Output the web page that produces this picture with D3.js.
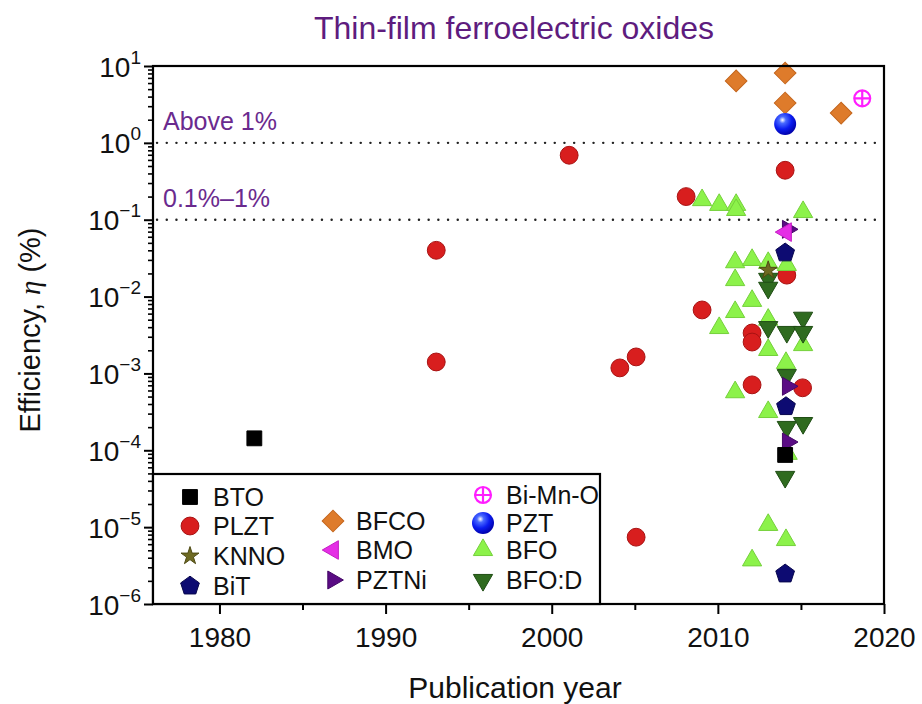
<!DOCTYPE html>
<html>
<head>
<meta charset="utf-8">
<script src="https://cdn.jsdelivr.net/npm/d3@7/dist/d3.min.js"></script>
<style>
  html, body { margin: 0; padding: 0; background: #fff; }
  svg { display: block; }
  text { font-family: "Liberation Sans", Arial, sans-serif; }
</style>
</head>
<body>
<svg id="chart" width="922" height="704"></svg>
<script>
// ---- Data: efficiency (%) vs publication year, thin-film ferroelectric oxides ----
const btoYear   = [1982.1, 2014.05];
const btoEff    = [1.43e-4, 8.7e-5];

const plztYear  = [1993.05, 1993.05, 2001.05, 2004.1, 2005.08, 2005.08, 2008.09, 2009.05,
                   2012.06, 2012.06, 2012.06, 2014.05, 2014.15, 2015.1];
const plztEff   = [0.040, 0.00141, 0.69, 0.00118, 0.00164, 7.4e-6, 0.20, 0.0067,
                   0.00336, 0.00256, 0.00071, 0.44, 0.019, 0.00065];

const knnoYear  = [2013.03];
const knnoEff   = [0.022];

const bitYear   = [2014.05, 2014.1, 2014.05];
const bitEff    = [0.037, 0.00037, 2.46e-6];

const bfcoYear  = [2011.1, 2014.05, 2014.05, 2017.42];
const bfcoEff   = [6.4, 8.1, 3.3, 2.44];

const bmoYear   = [2014.1];
const bmoEff    = [0.069];

const pztniYear = [2014.2, 2014.2, 2014.2];
const pztniEff  = [0.075, 0.00068, 0.000128];

const bimnoYear = [2018.69];
const bimnoEff  = [3.8];

const pztYear   = [2014.05];
const pztEff    = [1.76];

const bfoYear   = [2009.05, 2010.08, 2011.1, 2011.1, 2015.13, 2011.04, 2011.04, 2012.06,
                   2012.06, 2013.03, 2013.03, 2013.03, 2013.03, 2013.03, 2014.15, 2014.1,
                   2014.1, 2011.04, 2011.04, 2010.08, 2015.13, 2012.06, 2014.2];
const bfoEff    = [0.18, 0.156, 0.156, 0.134, 0.126, 0.028, 0.0164, 0.030,
                   0.0088, 0.0274, 0.0050, 0.00202, 0.000315, 1.07e-5, 0.0258, 0.00137,
                   6.8e-6, 0.0063, 0.00057, 0.0039, 0.00234, 3.7e-6, 9e-5];

const bfodYear  = [2013.03, 2013.03, 2013.03, 2014.15, 2015.13, 2015.13, 2014.15, 2014.15,
                   2015.13, 2014.05];
const bfodEff   = [0.017, 0.013, 0.0040, 0.00346, 0.0053, 0.00346, 0.00095, 0.000201,
                   0.000226, 4.5e-5];

// Axis ticks and threshold guides
const xMajorTicks = [1980, 1990, 2000, 2010, 2020];
const xMinorTicks = [1985, 1995, 2005, 2015];
const yMajorTicks = [1e-6, 1e-5, 1e-4, 1e-3, 1e-2, 1e-1, 1, 10];
const thresholds  = [1, 0.1];
const thresholdLabels = ["Above 1%", "0.1%\u20131%"];

// ---- Custom marker shapes ----
const symbolPentagon = {
  draw(ctx, size) {
    const r = Math.sqrt(size / 2.3776);
    for (let i = 0; i < 5; i++) {
      const a = -Math.PI / 2 + i * 2 * Math.PI / 5;
      const px = r * Math.cos(a), py = r * Math.sin(a);
      if (i) ctx.lineTo(px, py); else ctx.moveTo(px, py);
    }
    ctx.closePath();
  }
};
const symbolCirclePlus = {
  draw(ctx, size) {
    const r = Math.sqrt(size / Math.PI);
    ctx.moveTo(r, 0);
    ctx.arc(0, 0, r, 0, 2 * Math.PI);
    ctx.moveTo(-r, 0); ctx.lineTo(r, 0);
    ctx.moveTo(0, -r); ctx.lineTo(0, r);
  }
};

// Series definitions (draw order = stacking order)
const series = [
  { name: "PLZT",    years: plztYear,  vals: plztEff,  type: d3.symbolCircle,   size: 250, rot: 0,   fill: "#d81e1e", stroke: "#a81212" },
  { name: "BFO",     years: bfoYear,   vals: bfoEff,   type: d3.symbolTriangle, size: 160, rot: 0,   fill: "#8cf24a", stroke: "#74d03a" },
  { name: "BFO:D",   years: bfodYear,  vals: bfodEff,  type: d3.symbolTriangle, size: 160, rot: 180, fill: "#2f6b1f", stroke: "#1f4d14" },
  { name: "PZTNi",   years: pztniYear, vals: pztniEff, type: d3.symbolTriangle, size: 140, rot: 90,  fill: "#5a0c84", stroke: "#440866" },
  { name: "BiT",     years: bitYear,   vals: bitEff,   type: symbolPentagon,    size: 230, rot: 0,   fill: "#0d0b72", stroke: "#07064c" },
  { name: "BTO",     years: btoYear,   vals: btoEff,   type: d3.symbolSquare,   size: 220, rot: 0,   fill: "#000000", stroke: "#000000" },
  { name: "KNNO",    years: knnoYear,  vals: knnoEff,  type: d3.symbolStar,     size: 100, rot: 0,   fill: "#6e6a22", stroke: "#4e4a14" },
  { name: "BMO",     years: bmoYear,   vals: bmoEff,   type: d3.symbolTriangle, size: 150, rot: -90, fill: "#e52ee5", stroke: "#c41cc4" },
  { name: "BFCO",    years: bfcoYear,  vals: bfcoEff,  type: d3.symbolSquare,   size: 235, rot: 45,  fill: "#de7b2b", stroke: "#c4661d" },
  { name: "PZT",     years: pztYear,   vals: pztEff,   type: d3.symbolCircle,   size: 380, rot: 0,   fill: "url(#sphere)", stroke: "none" },
  { name: "Bi-Mn-O", years: bimnoYear, vals: bimnoEff, type: symbolCirclePlus,  size: 200, rot: 0,   fill: "none", stroke: "#ff1eff", sw: 2.2 }
];
const byName = Object.fromEntries(series.map(s => [s.name, s]));

// ---- Layout ----
const plotLeft = 153, plotRight = 884, plotTop = 66, plotBottom = 604;
const svg = d3.select("#chart");

const defs = svg.append("defs");
const grad = defs.append("radialGradient").attr("id", "sphere")
  .attr("cx", "0.38").attr("cy", "0.32").attr("r", "0.7");
grad.append("stop").attr("offset", "0").attr("stop-color", "#ffffff");
grad.append("stop").attr("offset", "0.22").attr("stop-color", "#4a6bff");
grad.append("stop").attr("offset", "0.6").attr("stop-color", "#0a1cf0");
grad.append("stop").attr("offset", "1").attr("stop-color", "#0000a8");

const x = d3.scaleLinear().domain([1976, 2020]).range([plotLeft, plotRight]);
const y = d3.scaleLog().domain([1e-6, 10]).range([plotBottom, plotTop]);

// Title
svg.append("text")
  .attr("x", 514).attr("y", 39)
  .attr("text-anchor", "middle")
  .attr("font-size", 32)
  .attr("fill", "#5e1c7e")
  .text("Thin-film ferroelectric oxides");

// X axis: labelled decades plus unlabelled half-decade ticks
const gx = svg.append("g").attr("transform", `translate(0,${plotBottom})`);
gx.call(d3.axisBottom(x).tickValues(xMajorTicks).tickSize(10).tickPadding(13).tickFormat(d3.format("d")));
gx.call(g => g.select(".domain").remove());
gx.selectAll(".tick line").attr("stroke", "#000").attr("stroke-width", 2);
gx.selectAll(".tick text").attr("font-size", 28).attr("fill", "#111");

const gxm = svg.append("g").attr("transform", `translate(0,${plotBottom})`);
gxm.call(d3.axisBottom(x).tickValues(xMinorTicks).tickSize(6).tickFormat(""));
gxm.call(g => g.select(".domain").remove());
gxm.selectAll(".tick line").attr("stroke", "#000").attr("stroke-width", 2);

// Y axis: decade labels as 10 with superscript exponent
const gy = svg.append("g").attr("transform", `translate(${plotLeft},0)`);
gy.call(d3.axisLeft(y).tickValues(yMajorTicks).tickSize(9).tickFormat(""));
gy.call(g => g.select(".domain").remove());
gy.selectAll(".tick line").attr("stroke", "#000").attr("stroke-width", 2);
gy.selectAll(".tick").each(function(d) {
  const e = Math.round(Math.log10(d));
  const t = d3.select(this).append("text")
    .attr("x", -12).attr("y", 10)
    .attr("text-anchor", "end")
    .attr("font-size", 28).attr("fill", "#111");
  t.append("tspan").text("10");
  t.append("tspan").attr("font-size", 19).attr("dy", -13)
    .text(e < 0 ? "\u2212" + Math.abs(e) : String(e));
});

const yMinor = [];
for (let e = -6; e < 1; e++) for (let m = 2; m <= 9; m++) yMinor.push(m * Math.pow(10, e));
const gym = svg.append("g").attr("transform", `translate(${plotLeft},0)`);
gym.call(d3.axisLeft(y).tickValues(yMinor).tickSize(5).tickFormat(""));
gym.call(g => g.select(".domain").remove());
gym.selectAll(".tick line").attr("stroke", "#000").attr("stroke-width", 1.6);

// Axis titles
svg.append("text")
  .attr("x", 515).attr("y", 698)
  .attr("text-anchor", "middle")
  .attr("font-size", 30).attr("fill", "#111")
  .text("Publication year");

const yl = svg.append("text")
  .attr("transform", `translate(40,330) rotate(-90)`)
  .attr("text-anchor", "middle")
  .attr("font-size", 29).attr("fill", "#111");
yl.append("tspan").text("Efficiency, ");
yl.append("tspan").attr("font-style", "italic").attr("font-family", "'Liberation Serif', serif").text("\u03b7");
yl.append("tspan").text(" (%)");

// Threshold guides (dotted) with region labels
svg.selectAll("line.threshold").data(thresholds).join("line")
  .attr("class", "threshold")
  .attr("x1", plotLeft + 4).attr("x2", plotRight)
  .attr("y1", d => y(d)).attr("y2", d => y(d))
  .attr("stroke", "#222").attr("stroke-width", 2.4)
  .attr("stroke-linecap", "round")
  .attr("stroke-dasharray", "0.1 9.6");

svg.selectAll("text.threshold").data(thresholds).join("text")
  .attr("class", "threshold")
  .attr("x", plotLeft + 10).attr("y", d => y(d) - 13)
  .attr("font-size", 25).attr("fill", "#6a2a8e")
  .text((d, i) => thresholdLabels[i]);

// Markers
const sym = d3.symbol();
function markerPath(s) { return sym.type(s.type).size(s.size)(); }

series.forEach(s => {
  const pts = s.years.map((yr, i) => ({ yr, v: s.vals[i] }));
  svg.append("g").attr("class", "series")
    .selectAll("path").data(pts).join("path")
    .attr("transform", d => `translate(${x(d.yr)},${y(d.v)}) rotate(${s.rot})`)
    .attr("d", markerPath(s))
    .attr("fill", s.fill)
    .attr("stroke", s.stroke)
    .attr("stroke-width", s.sw || 1);
});

// Frame
svg.append("rect")
  .attr("x", plotLeft).attr("y", plotTop)
  .attr("width", plotRight - plotLeft).attr("height", plotBottom - plotTop)
  .attr("fill", "none").attr("stroke", "#000").attr("stroke-width", 2.2);

// Legend
const legendBox = { x: plotLeft, y: 474, w: 447, h: plotBottom - 474 };
svg.append("rect")
  .attr("x", legendBox.x).attr("y", legendBox.y)
  .attr("width", legendBox.w).attr("height", legendBox.h)
  .attr("fill", "#fff").attr("stroke", "#000").attr("stroke-width", 2.2);

const legendNames = ["BTO", "PLZT", "KNNO", "BiT", "BFCO", "BMO", "PZTNi", "Bi-Mn-O", "PZT", "BFO", "BFO:D"];
const legendCol   = [0, 0, 0, 0, 1, 1, 1, 2, 2, 2, 2];
const legendRowY  = [497, 526, 556, 586, 521, 550, 580, 495, 523, 550, 580];
const legendColX  = [190, 333, 483];

const lg = svg.append("g").attr("class", "legend");
legendNames.forEach((name, i) => {
  const s = byName[name];
  const cx = legendColX[legendCol[i]], cy = legendRowY[i];
  lg.append("path")
    .attr("transform", `translate(${cx},${cy}) rotate(${s.rot})`)
    .attr("d", markerPath(s))
    .attr("fill", s.fill).attr("stroke", s.stroke).attr("stroke-width", s.sw || 1);
  lg.append("text")
    .attr("x", cx + 23).attr("y", cy + 9)
    .attr("font-size", 25).attr("fill", "#111")
    .text(name);
});
</script>
</body>
</html>
